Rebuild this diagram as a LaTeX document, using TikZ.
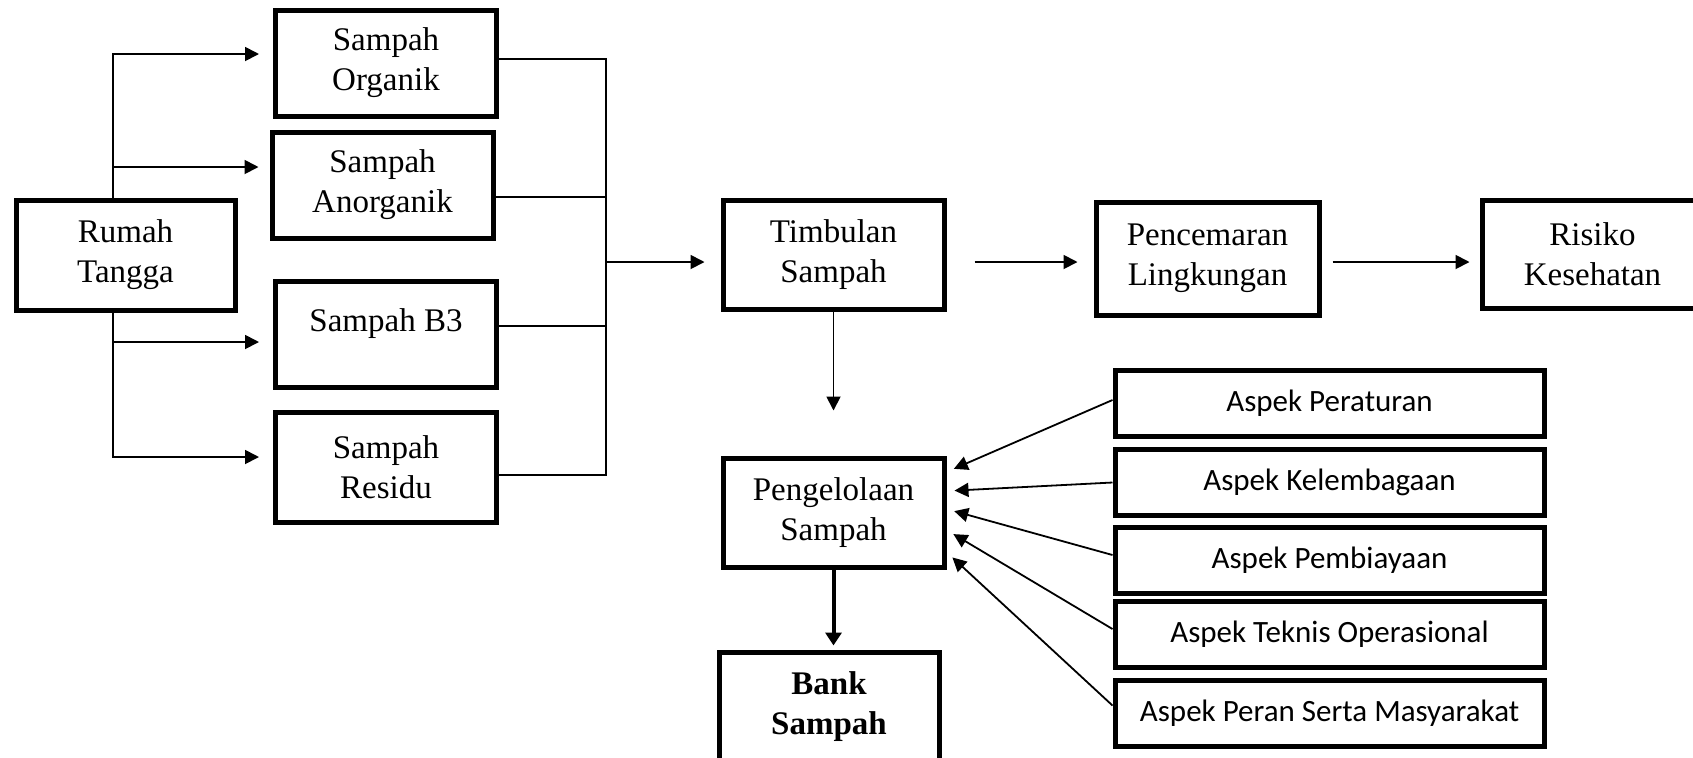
\documentclass[tikz,border=0pt]{standalone}
\usepackage{fontspec}
\setmainfont{Liberation Serif}
\newfontfamily\aspekfont{Carlito}
\usetikzlibrary{arrows.meta, positioning, calc}
\tikzset{
  box/.style={
    draw=black, line width=2.5pt, fill=white, align=center,
    inner sep=2pt, font=\fontsize{16.5}{20}\selectfont,
    minimum width=110.5pt, minimum height=54.5pt
  },
  aspek/.style={box, font=\aspekfont\fontsize{15.5}{20}\selectfont,
    minimum width=214.5pt, minimum height=33pt},
  flow/.style={-{Triangle[length=7pt, width=7pt]}, line width=0.9pt, draw=black},
  link/.style={line width=0.9pt, draw=black},
  flowthick/.style={-{Triangle[length=6.5pt, width=8pt]}, line width=2pt, draw=black},
}

\begin{document}
\begin{tikzpicture}[x=0.5pt, y=-0.5pt]
  \useasboundingbox (0,0) rectangle (1693,757);
  % sumber dan jenis sampah
  \node[box, minimum width=109.5pt, minimum height=55pt] (rumah) at (125.5,255) {Rumah\\Tangga};
  \node[box, minimum height=53pt] (organik) at (386,63) {Sampah\\Organik};
  \node[box, minimum height=53pt] (anorganik) at (382.5,185) {Sampah\\Anorganik};
  \node[box, minimum height=53pt, text depth=13.5pt] (bthree) at (386,334) {Sampah B3};
  \node[box, minimum height=55pt] (residu) at (386,467) {Sampah\\Residu};
  % alur utama
  \node[box] (timbulan) at (833.5,254.5) {Timbulan\\Sampah};
  \node[box, minimum width=111.5pt, minimum height=56.5pt] (pencemaran) at (1207.5,258.5) {Pencemaran\\Lingkungan};
  \node[box, minimum height=54pt] (risiko) at (1592.5,254) {Risiko\\Kesehatan};
  \node[box] (kelola) at (833.5,512.5) {Pengelolaan\\Sampah};
  \node[box, minimum width=110pt, minimum height=55pt,
    font=\fontsize{16.5}{20}\selectfont\bfseries] (bank) at (829,707) {Bank\\Sampah};
  % aspek pengelolaan
  \node[aspek] (peraturan) at (1329.5,403) {Aspek Peraturan};
  \node[aspek] (lembaga) at (1329.5,482.5) {Aspek Kelembagaan};
  \node[aspek] (biaya) at (1329.5,560) {Aspek Pembiayaan};
  \node[aspek] (teknis) at (1329.5,634) {Aspek Teknis Operasional};
  \node[aspek] (peran) at (1329.5,713.5) {Aspek Peran Serta Masyarakat};

  \coordinate (split) at (113,0);
  \coordinate (merge) at (606,262);

  % cabang dari rumah tangga
  \draw[flow, shorten >=7pt] (rumah.north -| split) |- ([yshift=4.5pt]organik.west);
  \draw[flow, shorten >=5.5pt] (rumah.north -| split) |- ([yshift=9pt]anorganik.west);
  \draw[flow, shorten >=7pt] (rumah.south -| split) |- ([yshift=-4pt]bthree.west);
  \draw[flow, shorten >=7pt] (rumah.south -| split) |- ([yshift=5pt]residu.west);
  % pengumpul ke timbulan
  \draw[link] ([yshift=2pt]organik.east) -| (merge);
  \draw[link] ([yshift=-6pt]anorganik.east) -| (merge);
  \draw[link] ([yshift=4pt]bthree.east) -| (merge);
  \draw[link] ([yshift=-4pt]residu.east) -| (merge);
  \draw[flow, shorten >=8pt] (merge) -- (merge -| timbulan.west);
  \draw[flow, shorten <=14pt, shorten >=8pt] (merge -| timbulan.east) -- (merge -| pencemaran.west);
  \draw[flow, shorten <=5.5pt, shorten >=5pt] (merge -| pencemaran.east) -- (merge -| risiko.west);
  \draw[flow, shorten >=22.5pt] (timbulan.south) -- (kelola.north);
  \draw[flowthick, shorten >=2pt] (kelola.south) -- (kelola.south |- bank.north);
  % aspek ke pengelolaan
  \draw[flow, shorten >=4pt] ([yshift=1.5pt]peraturan.west) -- ([yshift=20.25pt]kelola.east);
  \draw[flow, shorten >=4pt] (lembaga.west) -- ([yshift=10.75pt]kelola.east);
  \draw[flow, shorten >=4pt] ([yshift=2.5pt]biaya.west) -- ([yshift=1.75pt]kelola.east);
  \draw[flow, shorten >=4pt] ([yshift=2.5pt]teknis.west) -- ([yshift=-8.75pt]kelola.east);
  \draw[flow, shorten >=4pt] ([yshift=4pt]peran.west) -- ([yshift=-19.75pt]kelola.east);
\end{tikzpicture}
\end{document}
